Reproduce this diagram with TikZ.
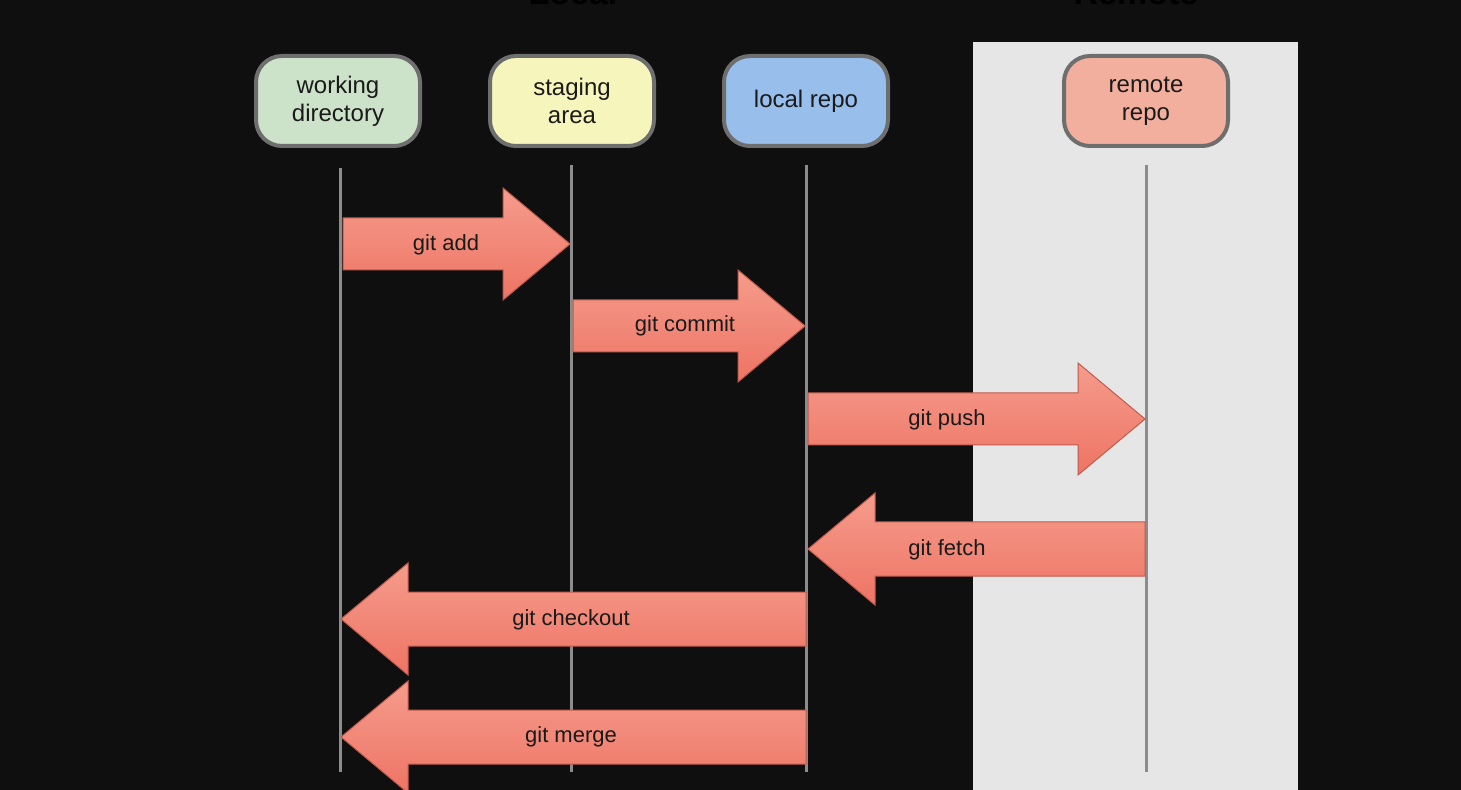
\documentclass[tikz,border=0pt]{standalone}
\usepackage{fontspec}
\setmainfont{Liberation Sans}
\usetikzlibrary{calc}
\definecolor{bg}{HTML}{0F0F0F}
\definecolor{panel}{HTML}{E6E6E6}
\definecolor{wdfill}{HTML}{CCE3C9}
\definecolor{safill}{HTML}{F6F6BC}
\definecolor{lrfill}{HTML}{98BEEC}
\definecolor{rrfill}{HTML}{F3AF9E}
\definecolor{boxline}{HTML}{6E6E6E}
\definecolor{lifeline}{HTML}{8C8C8C}
\definecolor{arrtop}{HTML}{F59C8C}
\definecolor{arrbot}{HTML}{EE7464}
\definecolor{arrline}{HTML}{C05A4C}
\definecolor{txt}{HTML}{1A1A1A}
\tikzset{
  stagebox/.style={draw=boxline, line width=2pt, rounded corners=13pt,
    minimum width=82pt, minimum height=45pt, align=center,
    font=\fontsize{12}{14}\selectfont, text=txt, inner sep=0pt},
  lifelinestyle/.style={draw=lifeline, line width=1.5pt},
  fatarrow/.style={top color=arrtop, bottom color=arrbot, draw=arrline, line width=0.5pt},
  arrlabel/.style={font=\fontsize{11}{13}\selectfont, text=txt, inner sep=0pt},
  zonelabel/.style={font=\bfseries\fontsize{17}{20}\selectfont, text=black, anchor=base, inner sep=0pt}
}
% right-pointing: #1 start x, #2 head x, #3 tip x, #4 centre y
\newcommand\fatright[4]{%
  \path[fatarrow] (#1,#4-26) -- (#2,#4-26) -- (#2,#4-56) -- (#3,#4) -- (#2,#4+56) -- (#2,#4+26) -- (#1,#4+26) -- cycle;}
% left-pointing: #1 start x (right), #2 head x, #3 tip x, #4 centre y
\newcommand\fatleft[4]{%
  \path[fatarrow] (#1,#4-27) -- (#2,#4-27) -- (#2,#4-56) -- (#3,#4) -- (#2,#4+56) -- (#2,#4+27) -- (#1,#4+27) -- cycle;}
\begin{document}
\begin{tikzpicture}[x=0.5pt,y=-0.5pt]
\useasboundingbox (0,0) rectangle (1461,790);
\fill[bg] (0,0) rectangle (1461,790);
\fill[panel] (973,42) rectangle (1298,790);

% zone titles (cut by the top edge)
\node[zonelabel] (local) at (573,5) {Local};
\node[zonelabel] (remote) at (1136,5) {Remote};

% stage nodes
\node[stagebox, fill=wdfill] (wd) at (338,101) {working\\directory};
\node[stagebox, fill=safill] (sa) at (572,101) {staging\\area};
\node[stagebox, fill=lrfill] (lr) at (806,101) {local repo};
\node[stagebox, fill=rrfill] (rr) at (1146,101) {remote\\repo};

% lifelines
\coordinate (wdtop) at (340,168); \coordinate (wdbot) at (340,772);
\coordinate (satop) at (571,165); \coordinate (sabot) at (571,772);
\coordinate (lrtop) at (806,165); \coordinate (lrbot) at (806,772);
\coordinate (rrtop) at (1146,165); \coordinate (rrbot) at (1146,772);
\draw[lifelinestyle] (wdtop) -- (wdbot);
\draw[lifelinestyle] (satop) -- (sabot);
\draw[lifelinestyle] (lrtop) -- (lrbot);
\draw[lifelinestyle] (rrtop) -- (rrbot);

% arrows
\fatright{343}{503}{570}{244}
\node[arrlabel] (add) at (446,245) {git add};
\fatright{573}{738}{805}{326}
\node[arrlabel] (commit) at (685,326) {git commit};
\fatright{808}{1078}{1145}{419}
\node[arrlabel] (push) at (947,420) {git push};
\fatleft{1145}{875}{808}{549}
\node[arrlabel] (fetch) at (947,550) {git fetch};
\fatleft{806}{408}{341}{619}
\node[arrlabel] (checkout) at (571,620) {git checkout};
\fatleft{806}{408}{341}{737}
\node[arrlabel] (merge) at (571,737) {git merge};
\end{tikzpicture}
\end{document}
